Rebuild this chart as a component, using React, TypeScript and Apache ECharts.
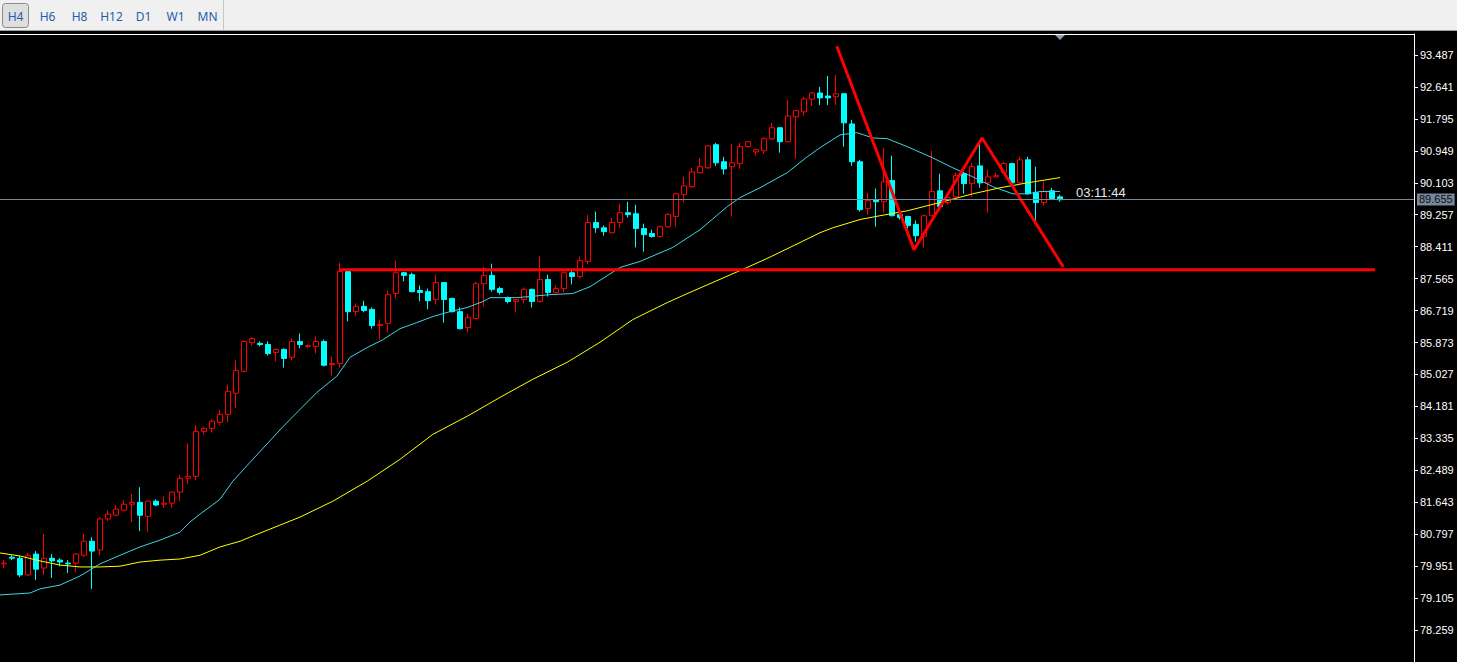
import React, { useEffect, useRef } from "react";
import * as echarts from "echarts";

// ---- data ----
const timeframes = ["H4", "H6", "H8", "H12", "D1", "W1", "MN"];

// [open, close, low, high] per H4 bar
const ohlc: number[][] = [
  [80.01, 80.03, 79.90, 80.11], [80.19, 80.16, 80.11, 80.24], [80.16, 79.72, 79.66, 80.22], [79.72, 80.24, 79.69, 80.30],
  [80.27, 79.87, 79.58, 80.35], [79.90, 80.16, 79.72, 80.80], [80.16, 80.09, 79.64, 80.27], [80.11, 80.06, 79.95, 80.16],
  [80.03, 80.01, 79.77, 80.11], [80.03, 80.27, 79.79, 80.30], [80.24, 80.61, 80.19, 80.80], [80.61, 80.35, 79.35, 80.72],
  [80.38, 81.20, 80.24, 81.25], [81.20, 81.33, 81.14, 81.43], [81.30, 81.46, 81.27, 81.57], [81.43, 81.59, 81.41, 81.70],
  [81.59, 81.64, 81.12, 81.86], [81.64, 81.30, 80.88, 82.04], [81.27, 81.67, 80.85, 81.68], [81.67, 81.57, 81.54, 81.72],
  [81.59, 81.62, 81.49, 81.80], [81.62, 81.91, 81.49, 81.94], [81.91, 82.28, 81.67, 82.36], [82.28, 82.33, 82.12, 83.20],
  [82.33, 83.52, 82.23, 83.68], [83.52, 83.60, 83.44, 83.65], [83.60, 83.79, 83.49, 83.84], [83.76, 83.97, 83.68, 84.10],
  [83.97, 84.58, 83.76, 84.76], [84.53, 85.13, 84.13, 85.40], [85.11, 85.90, 85.08, 85.93], [85.87, 85.98, 85.79, 86.01],
  [85.85, 85.82, 85.77, 85.90], [85.82, 85.58, 85.53, 85.90], [85.61, 85.69, 85.37, 85.72], [85.69, 85.45, 85.21, 85.72],
  [85.48, 85.90, 85.40, 85.98], [85.90, 85.82, 85.72, 86.11], [85.77, 85.79, 85.72, 85.82], [85.77, 85.90, 85.58, 86.03],
  [85.90, 85.27, 85.24, 85.95], [85.29, 85.32, 85.00, 85.50], [85.32, 87.75, 85.21, 87.99], [87.75, 86.69, 86.43, 87.78],
  [86.69, 86.83, 86.59, 86.91], [86.83, 86.72, 86.67, 86.98], [86.75, 86.32, 86.24, 86.80], [86.32, 86.35, 85.95, 86.48],
  [86.38, 87.14, 86.14, 87.25], [87.17, 87.72, 87.04, 88.04], [87.72, 87.65, 87.49, 87.75], [87.67, 87.22, 87.20, 87.72],
  [87.25, 87.20, 86.96, 87.38], [87.22, 86.98, 86.75, 87.30], [87.01, 87.46, 86.88, 87.67], [87.46, 87.01, 86.40, 87.47],
  [87.04, 86.69, 86.67, 87.06], [86.69, 86.24, 86.22, 86.80], [86.27, 86.53, 86.14, 86.64], [86.51, 87.43, 86.48, 87.49],
  [87.43, 87.65, 86.83, 87.88], [87.65, 87.28, 87.22, 87.96], [87.30, 87.20, 87.14, 87.35], [87.06, 86.96, 86.91, 87.09],
  [86.96, 87.01, 86.67, 87.02], [87.01, 87.28, 86.91, 87.33], [87.28, 86.96, 86.80, 87.30], [86.96, 87.54, 86.93, 88.15],
  [87.54, 87.20, 87.09, 87.67], [87.20, 87.30, 87.17, 87.38], [87.30, 87.72, 87.20, 87.83], [87.72, 87.62, 87.41, 87.83],
  [87.62, 88.04, 87.57, 88.15], [88.02, 89.05, 87.94, 89.26], [89.05, 88.91, 88.78, 89.34], [88.91, 88.81, 88.70, 88.97],
  [88.78, 89.05, 88.76, 89.18], [89.05, 89.31, 88.91, 89.55], [89.31, 89.26, 89.18, 89.60], [89.28, 88.89, 88.39, 89.52],
  [88.89, 88.73, 88.28, 89.02], [88.76, 88.68, 88.65, 88.86], [88.68, 88.94, 88.65, 88.97], [88.94, 89.26, 88.91, 89.31],
  [89.21, 89.81, 88.94, 89.84], [89.79, 90.02, 89.58, 90.26], [90.00, 90.39, 89.97, 90.50], [90.37, 90.53, 90.34, 90.76],
  [90.50, 91.08, 90.47, 91.11], [91.11, 90.63, 90.55, 91.16], [90.66, 90.47, 90.32, 90.79], [90.53, 90.63, 89.21, 91.13],
  [90.61, 91.06, 90.47, 91.16], [91.06, 91.19, 91.03, 91.21], [90.92, 90.98, 90.82, 91.00], [90.95, 91.27, 90.87, 91.32],
  [91.27, 91.56, 91.24, 91.69], [91.56, 91.19, 90.90, 91.58], [91.19, 91.87, 91.16, 92.30], [91.85, 92.01, 90.74, 92.03],
  [91.98, 92.32, 91.87, 92.38], [92.32, 92.48, 92.14, 92.51], [92.48, 92.35, 92.16, 92.64], [92.40, 92.35, 92.16, 92.93],
  [92.38, 92.46, 92.16, 92.96], [92.46, 91.69, 91.06, 92.48], [91.66, 90.66, 90.55, 91.77], [90.66, 89.39, 89.34, 90.71],
  [89.42, 89.63, 89.26, 89.84], [89.65, 89.60, 88.94, 89.95], [89.60, 90.13, 89.31, 91.03], [90.16, 89.23, 89.21, 90.82],
  [89.26, 89.18, 89.13, 89.31], [89.21, 88.97, 88.89, 89.23], [89.00, 88.70, 88.54, 89.10], [88.68, 89.23, 88.39, 89.26],
  [89.23, 89.87, 89.21, 90.95], [89.89, 89.47, 89.39, 90.34], [89.58, 89.71, 89.52, 89.76], [89.73, 90.29, 89.71, 90.37],
  [90.34, 90.08, 89.81, 90.39], [90.08, 90.53, 89.73, 90.63], [90.55, 90.10, 89.97, 91.19], [90.10, 90.26, 89.31, 90.45],
  [90.26, 90.29, 90.24, 90.37], [90.37, 90.61, 90.34, 90.66], [90.61, 90.10, 90.08, 90.63], [90.10, 90.71, 90.08, 90.79],
  [90.71, 89.81, 89.79, 90.79], [89.84, 89.58, 89.07, 90.53], [89.58, 89.87, 89.50, 90.13], [89.89, 89.68, 89.65, 89.97],
  [89.73, 89.655, 89.60, 89.79],
];

// fast moving average (cyan): [bar index, price]
const fastMA: number[][] = [
  [-0.5, 79.19], [3.25, 79.24], [4.5, 79.35], [7, 79.45], [9.5, 79.69], [10.75, 79.85], [12, 80.01], [14.5, 80.24],
  [17, 80.46], [19.5, 80.64], [22, 80.85], [23.25, 81.12], [24.5, 81.33], [27, 81.72], [28.6, 82.2], [30.75, 82.7],
  [34.9, 83.65], [39.1, 84.55], [41.6, 84.98], [43.25, 85.48], [45.4, 85.74], [47.4, 85.95], [49.5, 86.24],
  [51.6, 86.4], [53.6, 86.56], [55.75, 86.69], [57.9, 86.8], [59.9, 86.96], [60.75, 87.06], [64.1, 87.06],
  [68.25, 87.14], [71.1, 87.17], [72.4, 87.28], [73.25, 87.35], [77, 87.86], [79.5, 88.02], [83.6, 88.39],
  [87, 88.86], [90.4, 89.47], [92, 89.71], [94.5, 89.97], [97.9, 90.37], [100.4, 90.79], [102, 91.03],
  [104.5, 91.37], [106.6, 91.43], [108.6, 91.29], [110.4, 91.27], [112.9, 91.06], [116.1, 90.76], [118.6, 90.5],
  [121.1, 90.26], [123.6, 90.0], [126.1, 89.81], [127.9, 89.81], [129.5, 89.87], [132, 89.87],
];

// slow moving average (yellow): [bar index, price]
const slowMA: number[][] = [
  [-0.5, 80.3], [2, 80.22], [4.5, 80.09], [7, 79.98], [9.5, 79.93], [12, 79.93], [14.5, 79.95], [17, 80.06],
  [19.5, 80.11], [22, 80.14], [24.5, 80.24], [27, 80.46], [29.5, 80.61], [30.75, 80.72], [37, 81.25], [41.1, 81.67],
  [45.4, 82.2], [49.5, 82.78], [53.6, 83.44], [57.9, 83.92], [62, 84.42], [66.1, 84.9], [70.4, 85.35],
  [74.5, 85.88], [78.6, 86.48], [82.9, 86.93], [85.75, 87.2], [92.9, 87.86], [95.9, 88.15], [99.5, 88.52],
  [102, 88.78], [103.6, 88.91], [107, 89.13], [109.5, 89.23], [112.9, 89.36], [117, 89.58], [121.1, 89.81],
  [124.5, 89.97], [127.9, 90.1], [132, 90.24],
];

// drawn objects
const supportLine: number[][] = [[42, 87.8], [171.4, 87.8]];
const zigzag: number[][] = [[104.1, 93.72], [113.75, 88.33], [122.25, 91.29], [132.4, 87.88]];
const bidPrice = 89.655;
const countdown = "03:11:44";

// price axis
const priceStep = 0.846;
const priceMin = 77.413;
const priceMax = 94.042;
const barsVisible = 176.25;

export default function App() {
  const ref = useRef<HTMLDivElement>(null);

  useEffect(() => {
    if (!ref.current) return;
    const chart = echarts.init(ref.current, null, { renderer: "svg" });

    const tfGraphics: any[] = timeframes.map((t, i) => ({
      type: "text",
      x: 15.5 + i * 32,
      y: 16,
      z: 20,
      style: {
        text: t,
        fill: "#1f5fa6",
        font: "12px 'Noto Sans', 'Open Sans', sans-serif",
        textAlign: "center",
        textVerticalAlign: "middle",
      },
    }));

    chart.setOption({
      animation: false,
      backgroundColor: "#000000",
      grid: { left: 0, right: 43, top: 34, bottom: -1, containLabel: false },
      xAxis: {
        type: "value",
        min: -0.5,
        max: barsVisible,
        position: "top",
        axisLine: { show: true, onZero: false, lineStyle: { color: "#ffffff", width: 1 } },
        axisTick: { show: false },
        axisLabel: { show: false },
        splitLine: { show: false },
      },
      yAxis: {
        type: "value",
        position: "right",
        min: priceMin,
        max: priceMax,
        interval: priceStep,
        scale: true,
        axisLine: { show: true, onZero: false, lineStyle: { color: "#ffffff", width: 1 } },
        axisTick: { show: true, length: 4, lineStyle: { color: "#ffffff" } },
        axisLabel: {
          color: "#ffffff",
          fontSize: 11,
          fontFamily: "'Liberation Sans Narrow', 'Liberation Sans', sans-serif",
          margin: 6,
          showMinLabel: false,
          showMaxLabel: false,
          formatter: (v: number) => v.toFixed(3),
        },
        splitLine: { show: false },
      },
      series: [
        {
          type: "candlestick",
          data: ohlc.map((d, i) => [i, d[0], d[1], d[2], d[3]]),
          encode: { x: 0, y: [1, 2, 3, 4] },
          barWidth: 5,
          itemStyle: {
            color: "#000000",
            color0: "#00ffff",
            borderColor: "#ff0000",
            borderColor0: "#00ffff",
            borderWidth: 1,
          },
          markLine: {
            silent: true,
            symbol: ["none", "none"],
            data: [{ yAxis: bidPrice }],
            lineStyle: { color: "#778899", width: 1, type: "solid" },
            label: {
              show: true,
              position: "end",
              distance: 3,
              formatter: bidPrice.toFixed(3),
              backgroundColor: "#778899",
              color: "#0a0f18",
              fontSize: 11,
              fontFamily: "'Liberation Sans Narrow', 'Liberation Sans', sans-serif",
              padding: [1, 2, 0, 2],
            },
          },
          z: 2,
        },
        {
          type: "line",
          data: fastMA,
          symbol: "none",
          lineStyle: { color: "#3fd6e6", width: 1 },
          z: 3,
        },
        {
          type: "line",
          data: slowMA,
          symbol: "none",
          lineStyle: { color: "#ffff00", width: 1 },
          z: 3,
        },
        {
          type: "line",
          data: supportLine,
          symbol: "none",
          lineStyle: { color: "#ff0000", width: 3 },
          z: 4,
        },
        {
          type: "line",
          data: zigzag,
          symbol: "none",
          lineStyle: { color: "#ff0000", width: 3 },
          z: 4,
        },
      ],
      graphic: [
        { type: "rect", shape: { x: 0, y: 0, width: 1457, height: 30 }, style: { fill: "#f0f0f0" }, z: 10 },
        { type: "line", shape: { x1: 0, y1: 30.5, x2: 1457, y2: 30.5 }, style: { stroke: "#a0a0a0", lineWidth: 1 }, z: 11 },
        { type: "line", shape: { x1: 223.5, y1: 0, x2: 223.5, y2: 30 }, style: { stroke: "#c8c8c8", lineWidth: 1 }, z: 11 },
        {
          type: "rect",
          shape: { x: 2.5, y: 3.5, width: 26, height: 24, r: 3 },
          style: { fill: "#dedede", stroke: "#8a8a8a", lineWidth: 1 },
          z: 12,
        },
        ...tfGraphics,
        {
          type: "polygon",
          shape: { points: [[1055, 35], [1065, 35], [1060, 40]] },
          style: { fill: "#8c9cac" },
          z: 20,
        },
        {
          type: "text",
          x: 1076,
          y: 192,
          z: 20,
          style: {
            text: countdown,
            fill: "#e6e6e6",
            font: "13px 'Liberation Sans', sans-serif",
            textAlign: "left",
            textVerticalAlign: "middle",
          },
        },
      ],
    });

    return () => chart.dispose();
  }, []);

  return (
    <div
      ref={ref}
      style={{ position: "fixed", left: 0, top: 0, width: 1457, height: 662, background: "#000" }}
    />
  );
}
